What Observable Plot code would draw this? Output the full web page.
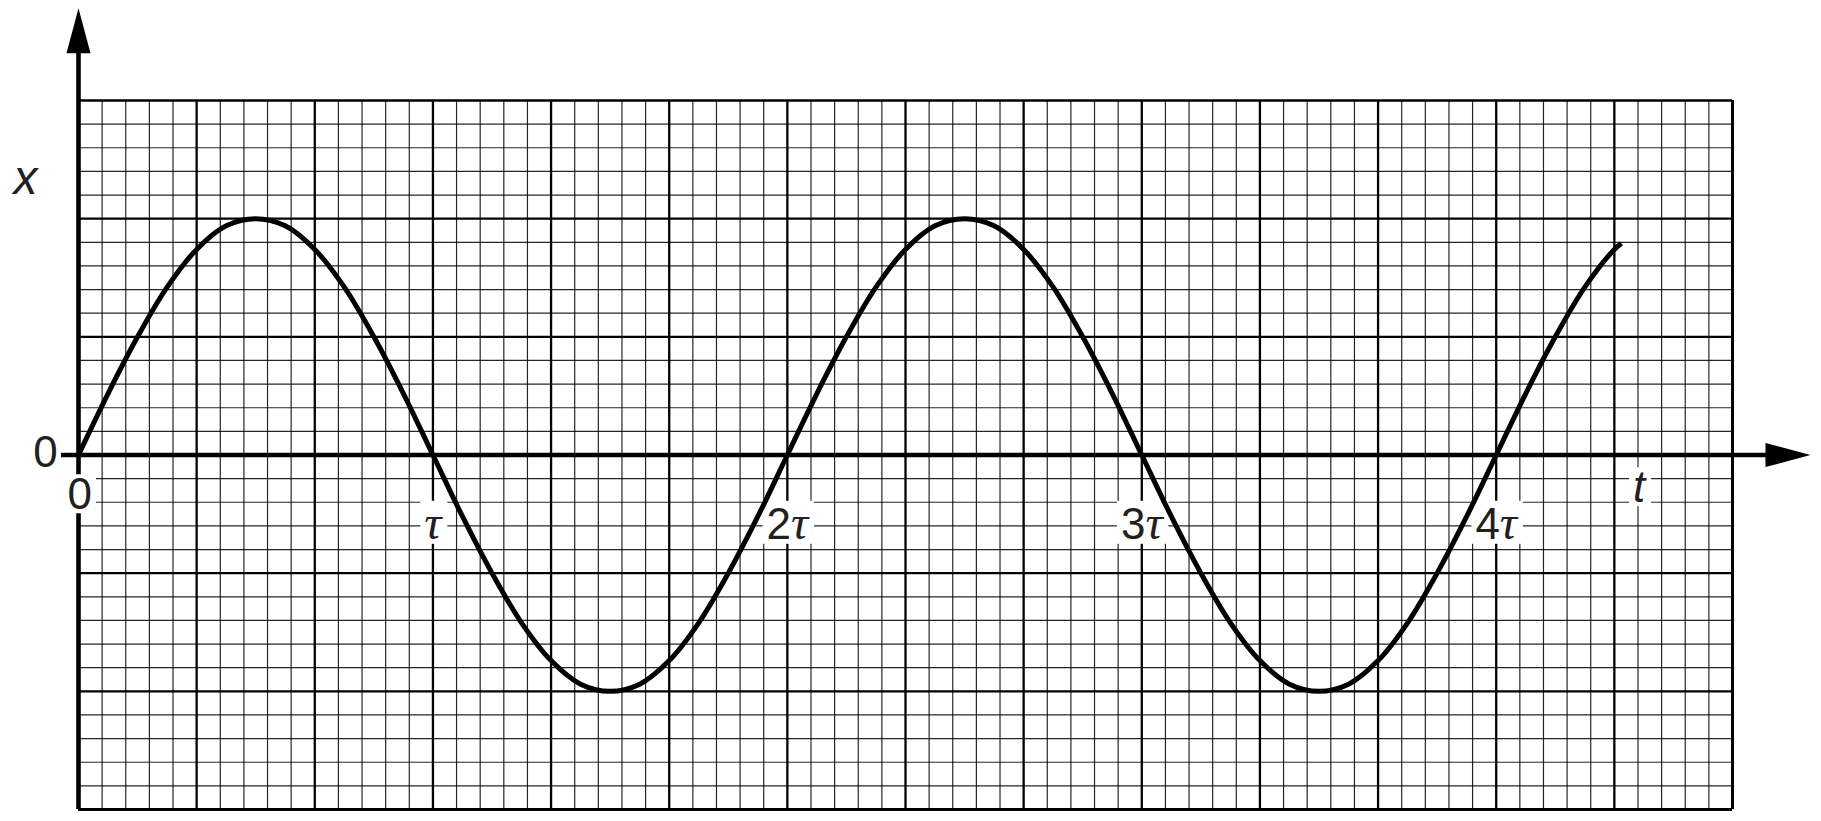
<!DOCTYPE html>
<html><head><meta charset="utf-8">
<script src="https://cdn.jsdelivr.net/npm/d3@7"></script>
<script src="https://cdn.jsdelivr.net/npm/@observablehq/plot@0.6"></script>
<style>html,body{margin:0;padding:0;background:#fff;} svg{display:block;}</style>
</head><body><div id="chart"></div>
<script>
// time in grid units (15 small squares = tau), displacement in grid units
const tValues = [0, 1.25, 2.5, 3.75, 5, 6.25, 7.5, 8.75, 10, 11.25, 12.5, 13.75,
  15, 16.25, 17.5, 18.75, 20, 21.25, 22.5, 23.75, 25, 26.25, 27.5, 28.75,
  30, 31.25, 32.5, 33.75, 35, 36.25, 37.5, 38.75, 40, 41.25, 42.5, 43.75,
  45, 46.25, 47.5, 48.75, 50, 51.25, 52.5, 53.75, 55, 56.25, 57.5, 58.75,
  60, 61.25, 62.5, 63.75, 65, 65.3];
const xValues = [0, 2.6, 5.0, 7.1, 8.7, 9.7, 10, 9.7, 8.7, 7.1, 5.0, 2.6,
  0, -2.6, -5.0, -7.1, -8.7, -9.7, -10, -9.7, -8.7, -7.1, -5.0, -2.6,
  0, 2.6, 5.0, 7.1, 8.7, 9.7, 10, 9.7, 8.7, 7.1, 5.0, 2.6,
  0, -2.6, -5.0, -7.1, -8.7, -9.7, -10, -9.7, -8.7, -7.1, -5.0, -2.6,
  0, 2.6, 5.0, 7.1, 8.7, 8.95];
const tickT = [15, 30, 45, 60];
const tickLabels = ["τ", "2τ", "3τ", "4τ"];
const tDomain = [0, 70];
const xDomain = [-15, 15];
const xAxisExtent = [-0.72, 72];   // horizontal axis line (arrow tip further right)
const xArrowTip = 73.3;
const yAxisExtent = [-15, 18];
const yArrowTip = 18.9;

const curve = tValues.map((t, i) => ({t, x: xValues[i]}));
const ticks = tickT.map((t, i) => ({t, label: tickLabels[i]}));
const minorT = d3.range(tDomain[0], tDomain[1] + 0.001, 1).filter(v => v % 5 !== 0);
const majorT = d3.range(tDomain[0], tDomain[1] + 0.001, 5);
const minorX = d3.range(xDomain[0], xDomain[1] + 0.001, 1).filter(v => v % 5 !== 0);
const majorX = d3.range(xDomain[0], xDomain[1] + 0.001, 5);

const upHead = {draw(ctx) { ctx.moveTo(0, 0); ctx.lineTo(-12, 45); ctx.lineTo(12, 45); ctx.closePath(); }};
const rightHead = {draw(ctx) { ctx.moveTo(0, 0); ctx.lineTo(-45, -12); ctx.lineTo(-45, 12); ctx.closePath(); }};

const font = "Liberation Sans, Arial, Helvetica, sans-serif";
const ink = "#231f20";
const boxedInk = "#231f21"; // same ink; marks labels that sit on a white box

const plot = Plot.plot({
  width: 1821, height: 821,
  marginLeft: 78, marginRight: 89, marginTop: 100, marginBottom: 12,
  x: {domain: tDomain, axis: null},
  y: {domain: xDomain, axis: null},
  style: {background: "#fff", overflow: "visible", fontFamily: font},
  marks: [
    Plot.ruleX(minorT, {stroke: "#000", strokeWidth: 1.2, strokeOpacity: 0.85}),
    Plot.ruleY(minorX, {stroke: "#000", strokeWidth: 1.2, strokeOpacity: 0.85}),
    Plot.ruleX(majorT, {stroke: "#000", strokeWidth: 2.3}),
    Plot.ruleY(majorX, {stroke: "#000", strokeWidth: 2.3}),
    Plot.ruleX([tDomain[1]], {stroke: "#000", strokeWidth: 3}),
    Plot.ruleY([xDomain[0]], {stroke: "#000", strokeWidth: 3}),
    Plot.ruleY([0], {x1: xAxisExtent[0], x2: xAxisExtent[1], stroke: "#000", strokeWidth: 4.3}),
    Plot.ruleX([0], {y1: yAxisExtent[0], y2: yAxisExtent[1], stroke: "#000", strokeWidth: 4.6}),
    Plot.dot([{t: xArrowTip, x: 0}], {x: "t", y: "x", symbol: rightHead, fill: "#000", stroke: null}),
    Plot.dot([{t: 0, x: yArrowTip}], {x: "t", y: "x", symbol: upHead, fill: "#000", stroke: null}),
    Plot.text(ticks, {x: "t", y: -2.95, text: "label", fontSize: 44, fill: boxedInk}),
    Plot.text(["0"], {x: 0.05, y: -1.7, text: d => d, fontSize: 44, fill: boxedInk}),
    Plot.text(["t"], {x: 66.05, y: -1.4, text: d => d, fontSize: 44, fontStyle: "italic", fill: boxedInk}),
    Plot.text(["0"], {x: -1.4, y: 0.1, text: d => d, fontSize: 44, fill: ink}),
    Plot.text(["x"], {x: -2.24, y: 11.7, text: d => d, fontSize: 48, fontStyle: "italic", fill: ink}),
    Plot.line(curve, {x: "t", y: "x", curve: "catmull-rom", stroke: "#000", strokeWidth: 5, strokeLinecap: "butt"})
  ]
});
document.getElementById("chart").append(plot);

const ns = "http://www.w3.org/2000/svg";
const boxed = Array.from(plot.querySelectorAll("text")).filter(tx => {
  const g = tx.closest("g");
  return g && (g.getAttribute("fill") || "").toLowerCase() === boxedInk;
});
boxed.forEach(tx => {
  const s = tx.textContent;
  if (s.endsWith("τ")) {
    while (tx.firstChild) tx.removeChild(tx.firstChild);
    if (s.length > 1) {
      const a = document.createElementNS(ns, "tspan");
      a.textContent = s.slice(0, -1);
      tx.appendChild(a);
    }
    const b = document.createElementNS(ns, "tspan");
    b.setAttribute("font-family", "Liberation Serif, Times New Roman, serif");
    b.setAttribute("font-style", "italic");
    b.setAttribute("font-size", "48");
    b.textContent = "τ";
    tx.appendChild(b);
  }
  const bb = tx.getBBox();
  const r = document.createElementNS(ns, "rect");
  r.setAttribute("x", bb.x - 4);
  r.setAttribute("y", bb.y + 5);
  r.setAttribute("width", bb.width + 8);
  r.setAttribute("height", Math.max(0, bb.height - 10));
  r.setAttribute("fill", "#fff");
  if (tx.getAttribute("transform")) r.setAttribute("transform", tx.getAttribute("transform"));
  tx.parentNode.insertBefore(r, tx);
});
</script>
</body></html>
